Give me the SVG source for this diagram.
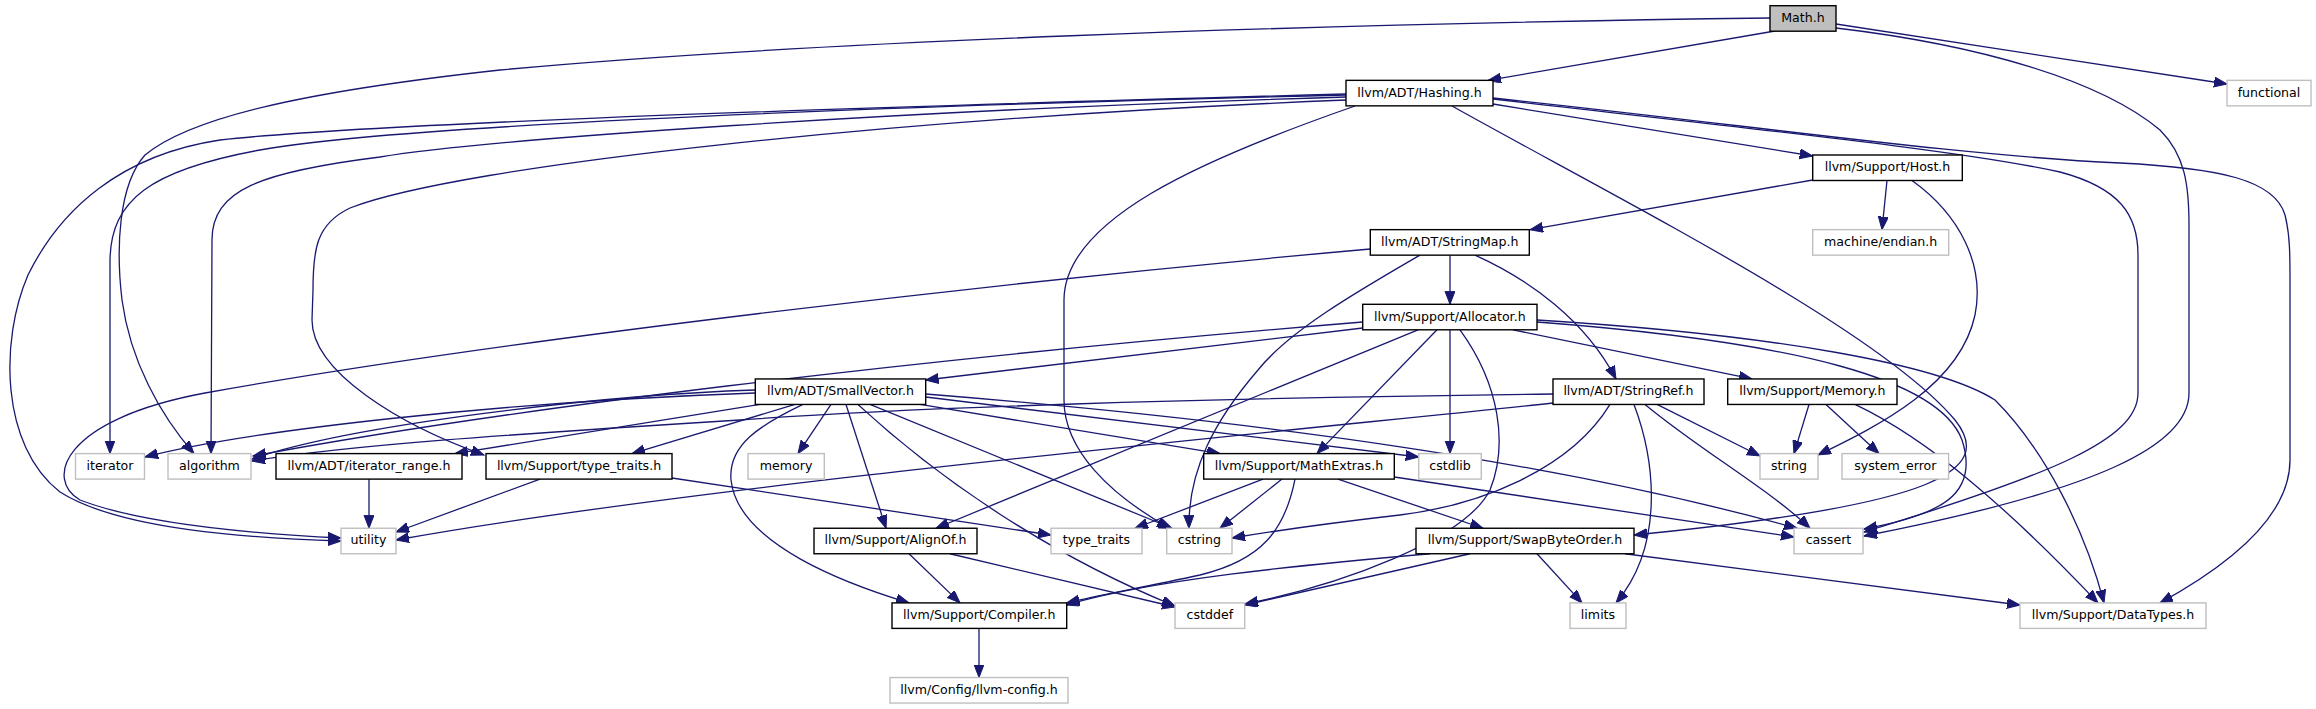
<svg xmlns="http://www.w3.org/2000/svg" width="2316" height="709" viewBox="0 0 2316 709">
<style>
.n rect{fill:#fff;stroke:#000;stroke-width:1.4}
.g rect{fill:#fff;stroke:#bfbfbf;stroke-width:1.4}
.m rect{fill:#bfbfbf;stroke:#000;stroke-width:1.4}
text{font-family:"DejaVu Sans",sans-serif;font-size:12.6px;text-anchor:middle;fill:#000}
#edges path{fill:none;stroke:#191970;stroke-width:1.3;marker-end:url(#ah)}
</style>
<defs>
<marker id="ah" markerUnits="userSpaceOnUse" markerWidth="14" markerHeight="11" refX="13" refY="5" orient="auto">
<path d="M0,0 L13,5 L0,10 Z" fill="#191970" stroke="#191970" stroke-width="1"/>
</marker>
</defs>
<rect width="2316" height="709" fill="#fff"/>
<g id="edges">
<path d="M1775,31 L1488,80.4"/>
<path d="M1836,24 L2227,84"/>
<path d="M1770,18 C1300,24 800,42 500,70 C300,92 190,118 145,155 C118,185 116,250 122,300 C130,360 160,415 194,453.6"/>
<path d="M1836,28 C1980,45 2100,80 2160,130 C2185,155 2189,185 2189,225 L2189,393 C2189,445 2100,490 1864,536"/>
<path d="M1493,104 L1812.7,156"/>
<path d="M1452,106 C1620,200 1880,330 1955,420 C1995,470 1940,505 1634,535"/>
<path d="M1346,100 C900,118 460,165 350,208 C316,224 313,250 313,290 L312,320 C312,372 400,425 484,455"/>
<path d="M1346,97 C900,110 480,140 380,157 C260,172 212,190 212,240 L211,453.6"/>
<path d="M1493,99 C1760,130 1960,150 2060,172 C2120,188 2138,215 2138,255 L2138,393 C2138,440 2050,475 1864,532"/>
<path d="M1355,106 C1200,160 1064,220 1064,300 L1064,400 C1064,450 1110,495 1170,528.25"/>
<path d="M1346,95 C800,108 380,128 260,150 C150,170 111,200 110,260 L110,453.6"/>
<path d="M1346,94 C900,106 380,122 220,140 C120,155 60,210 28,275 C0,340 0,445 60,492 C120,530 250,538 341,541"/>
<path d="M1493,98 C1750,125 1950,155 2120,163 C2220,168 2275,180 2285,215 C2290,235 2290,255 2290,280 L2290,460 C2290,520 2220,570 2160,602.9"/>
<path d="M1812.7,180 L1530,229.65"/>
<path d="M1887,180.5 L1882,229.65"/>
<path d="M1912,180.5 C1960,215 1985,265 1975,315 C1960,385 1880,425 1818,455"/>
<path d="M1450,255.15 L1450,304.3"/>
<path d="M1475,255.15 C1530,280 1585,320 1616,378.95"/>
<path d="M1420,255.15 C1360,290 1290,330 1258,370 C1215,420 1188,470 1189,528.25"/>
<path d="M1370.3,249 C1000,282 500,340 205,393 C60,420 45,480 80,500 C150,527 280,535 341,538"/>
<path d="M1362.7,328 L925.7,380"/>
<path d="M1362.7,322 C900,360 500,410 253,456"/>
<path d="M1418,329.8 L936,528.25"/>
<path d="M1437,329.8 L1317,453.6"/>
<path d="M1450,329.8 L1450,453.6"/>
<path d="M1460,329.8 C1500,385 1508,445 1490,490 C1465,540 1340,585 1245,604"/>
<path d="M1513,329.8 L1752,378.95"/>
<path d="M1537,320 C1780,335 1940,365 1995,400 C2045,450 2085,530 2104,602.9"/>
<path d="M1537,322 C1800,342 1940,380 1962,440 C1980,495 1940,515 1864,529"/>
<path d="M755.3,390 C600,395 350,425 252,459"/>
<path d="M755.3,393 C500,402 250,430 145,457"/>
<path d="M760,404.45 L455,453.6"/>
<path d="M795,404.45 L632,453.6"/>
<path d="M831,404.45 L798,453.6"/>
<path d="M846,404.45 L886,528.25"/>
<path d="M803,404.45 C760,425 728,445 731,480 C738,545 850,585 909,602.9"/>
<path d="M858,404.45 C940,480 1050,555 1175,606"/>
<path d="M870,404.45 L1172,528.25"/>
<path d="M920,404.45 L1220,453.6"/>
<path d="M925.7,397 L1418.7,457"/>
<path d="M925.7,394 C1250,420 1550,460 1797,528.25"/>
<path d="M1553,394 C1200,398 900,408 740,420 C500,435 350,445 252,461"/>
<path d="M1553,403 C1300,430 700,485 396,540"/>
<path d="M1610,404.45 C1570,470 1480,505 1400,515 C1330,523 1280,530 1232,538"/>
<path d="M1634,404.45 C1655,460 1665,545 1616,602.9"/>
<path d="M1645,404.45 C1700,450 1770,490 1810,528.25"/>
<path d="M1657,404.45 L1760,456"/>
<path d="M1809,404.45 L1794,453.6"/>
<path d="M1826,404.45 L1879,453.6"/>
<path d="M1855,404.45 C1930,440 2010,510 2098,602.9"/>
<path d="M540,479.1 L396,532"/>
<path d="M672,478 L1051,535"/>
<path d="M369,479.1 L369,528.25"/>
<path d="M1263,479.1 L1135,528.25"/>
<path d="M1282,479.1 L1220,528.25"/>
<path d="M1295,479.1 C1285,530 1262,560 1200,575 C1140,588 1100,595 1066.7,603"/>
<path d="M1338,479.1 L1483,528.25"/>
<path d="M1394.3,477 L1794,537"/>
<path d="M909,553.75 L960,602.9"/>
<path d="M950,553.75 L1175,607"/>
<path d="M1430,553.75 C1300,565 1150,580 1066.7,605"/>
<path d="M1470,553.75 L1244.7,605"/>
<path d="M1537,553.75 L1582,602.9"/>
<path d="M1625,553.75 L2020,605"/>
<path d="M979,628.4 L979,677.55"/>
</g>
<g id="n_math" class="m"><rect x="1770" y="5.7" width="66" height="25.5"/><text x="1803" y="21.9">Math.h</text></g>
<g id="n_hashing" class="n"><rect x="1346" y="80.35" width="147" height="25.5"/><text x="1419.5" y="96.55">llvm/ADT/Hashing.h</text></g>
<g id="n_functional" class="g"><rect x="2227" y="80.35" width="84" height="25.5"/><text x="2269" y="96.55">functional</text></g>
<g id="n_host" class="n"><rect x="1812.7" y="155" width="149.6" height="25.5"/><text x="1887.5" y="171.2">llvm/Support/Host.h</text></g>
<g id="n_stringmap" class="n"><rect x="1370.3" y="229.65" width="159" height="25.5"/><text x="1449.8" y="245.85">llvm/ADT/StringMap.h</text></g>
<g id="n_endian" class="g"><rect x="1812.7" y="229.65" width="136" height="25.5"/><text x="1880.7" y="245.85">machine/endian.h</text></g>
<g id="n_allocator" class="n"><rect x="1362.7" y="304.3" width="174.3" height="25.5"/><text x="1449.85" y="320.5">llvm/Support/Allocator.h</text></g>
<g id="n_smallvector" class="n"><rect x="755.3" y="378.95" width="170.4" height="25.5"/><text x="840.5" y="395.15">llvm/ADT/SmallVector.h</text></g>
<g id="n_stringref" class="n"><rect x="1553" y="378.95" width="151" height="25.5"/><text x="1628.5" y="395.15">llvm/ADT/StringRef.h</text></g>
<g id="n_memory" class="n"><rect x="1727.7" y="378.95" width="169.3" height="25.5"/><text x="1812.35" y="395.15">llvm/Support/Memory.h</text></g>
<g id="n_iterator" class="g"><rect x="75.5" y="453.6" width="69" height="25.5"/><text x="110" y="469.8">iterator</text></g>
<g id="n_algorithm" class="g"><rect x="168" y="453.6" width="83" height="25.5"/><text x="209.5" y="469.8">algorithm</text></g>
<g id="n_iterrange" class="n"><rect x="276" y="453.6" width="186" height="25.5"/><text x="369" y="469.8">llvm/ADT/iterator_range.h</text></g>
<g id="n_typetraitsh" class="n"><rect x="486" y="453.6" width="186" height="25.5"/><text x="579" y="469.8">llvm/Support/type_traits.h</text></g>
<g id="n_memoryh" class="g"><rect x="748" y="453.6" width="76.3" height="25.5"/><text x="786.15" y="469.8">memory</text></g>
<g id="n_mathextras" class="n"><rect x="1203.7" y="453.6" width="190.6" height="25.5"/><text x="1299" y="469.8">llvm/Support/MathExtras.h</text></g>
<g id="n_cstdlib" class="g"><rect x="1418.7" y="453.6" width="62.6" height="25.5"/><text x="1450" y="469.8">cstdlib</text></g>
<g id="n_string" class="g"><rect x="1760" y="453.6" width="58" height="25.5"/><text x="1789" y="469.8">string</text></g>
<g id="n_syserr" class="g"><rect x="1842" y="453.6" width="106.6" height="25.5"/><text x="1895.3" y="469.8">system_error</text></g>
<g id="n_utility" class="g"><rect x="341" y="528.25" width="55" height="25.5"/><text x="368.5" y="544.45">utility</text></g>
<g id="n_alignof" class="n"><rect x="814" y="528.25" width="163" height="25.5"/><text x="895.5" y="544.45">llvm/Support/AlignOf.h</text></g>
<g id="n_typetraits" class="g"><rect x="1051" y="528.25" width="91" height="25.5"/><text x="1096.5" y="544.45">type_traits</text></g>
<g id="n_cstring" class="g"><rect x="1166.7" y="528.25" width="65.3" height="25.5"/><text x="1199.35" y="544.45">cstring</text></g>
<g id="n_swap" class="n"><rect x="1416" y="528.25" width="218" height="25.5"/><text x="1525" y="544.45">llvm/Support/SwapByteOrder.h</text></g>
<g id="n_cassert" class="g"><rect x="1794" y="528.25" width="69" height="25.5"/><text x="1828.5" y="544.45">cassert</text></g>
<g id="n_compiler" class="n"><rect x="892" y="602.9" width="174.7" height="25.5"/><text x="979.35" y="619.1">llvm/Support/Compiler.h</text></g>
<g id="n_cstddef" class="g"><rect x="1175" y="602.9" width="69.7" height="25.5"/><text x="1209.85" y="619.1">cstddef</text></g>
<g id="n_limits" class="g"><rect x="1570" y="602.9" width="56" height="25.5"/><text x="1598" y="619.1">limits</text></g>
<g id="n_datatypes" class="g"><rect x="2020" y="602.9" width="186" height="25.5"/><text x="2113" y="619.1">llvm/Support/DataTypes.h</text></g>
<g id="n_config" class="g"><rect x="890" y="677.55" width="178" height="25.5"/><text x="979" y="693.75">llvm/Config/llvm-config.h</text></g>
</svg>
